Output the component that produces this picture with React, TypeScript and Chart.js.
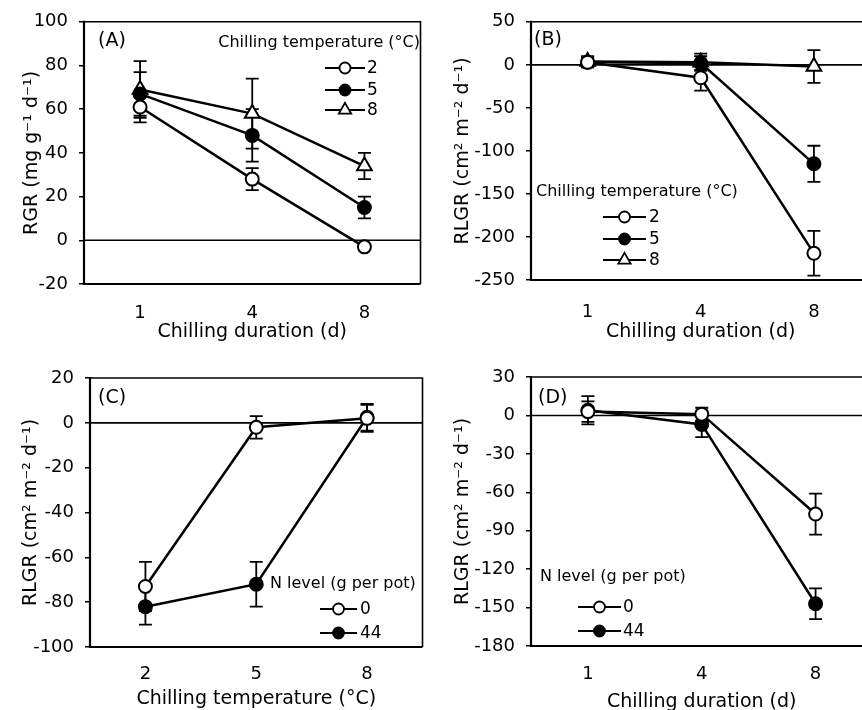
import React, { useEffect, useRef } from "react";
import { Chart, registerables } from "chart.js";

Chart.register(...registerables);

const FONT = "'DejaVu Sans', Verdana, sans-serif";

// ---------- categories ----------
const durationLabels = ["1", "4", "8"];
const temperatureLabels = ["2", "5", "8"];
const chillTempSeries = ["2", "5", "8"];
const nLevelSeries = ["0", "44"];

// ---------- (A) RGR vs chilling duration ----------
const rgrT2 = [61, 28, -3];
const rgrT2Err = [7, 5, 0];
const rgrT5 = [67, 48, 15];
const rgrT5Err = [10, 12, 5];
const rgrT8 = [69, 58, 34];
const rgrT8Err = [13, 16, 6];

// ---------- (B) RLGR vs chilling duration ----------
const rlgrBT2 = [3, -15, -219];
const rlgrBT2Err = [6, 15, 26];
const rlgrBT5 = [3, 2, -115];
const rlgrBT5Err = [6, 8, 21];
const rlgrBT8 = [4, 3, -2];
const rlgrBT8Err = [6, 10, 19];

// ---------- (C) RLGR vs chilling temperature ----------
const rlgrCN0 = [-73, -2, 2];
const rlgrCN0Err = [11, 5, 6];
const rlgrCN44 = [-82, -72, 2.5];
const rlgrCN44Err = [8, 10, 6];

// ---------- (D) RLGR vs chilling duration ----------
const rlgrDN0 = [3, 1, -77];
const rlgrDN0Err = [8, 5, 16];
const rlgrDN44 = [4, -7, -147];
const rlgrDN44Err = [11, 10, 12];

// ---------- axis ranges ----------
const yRangeA = [-20, 100, 20];
const yRangeB = [-250, 50, 50];
const yRangeC = [-100, 20, 20];
const yRangeD = [-180, 30, 30];

const titleRGR = "RGR (mg g\u207B\u00B9 d\u207B\u00B9)";
const titleRLGR = "RLGR (cm\u00B2 m\u207B\u00B2 d\u207B\u00B9)";
const titleDuration = "Chilling duration (d)";
const titleTemperature = "Chilling temperature (\u00B0C)";
const legendTempTitle = "Chilling temperature (\u00B0C)";
const legendNTitle = "N level (g per pot)";

type Marker = "open" | "filled" | "triangle";

function series(label: string, data: number[], errors: number[], marker: Marker) {
  const tri = marker === "triangle";
  return {
    label,
    data,
    errors,
    marker,
    borderColor: "#000",
    borderWidth: 2.5,
    tension: 0,
    fill: false,
    pointStyle: tri ? "triangle" : "circle",
    pointRadius: tri ? 8.5 : 6.5,
    pointBorderWidth: 2,
    pointBorderColor: "#000",
    pointBackgroundColor: marker === "filled" ? "#000" : "#fff",
  };
}

function drawMarker(ctx: CanvasRenderingContext2D, marker: Marker, x: number, y: number, r: number) {
  ctx.save();
  ctx.beginPath();
  if (marker === "triangle") {
    let rad = 0;
    const R = r * 1.3;
    ctx.moveTo(x + Math.sin(rad) * R, y - Math.cos(rad) * R);
    rad += (2 * Math.PI) / 3;
    ctx.lineTo(x + Math.sin(rad) * R, y - Math.cos(rad) * R);
    rad += (2 * Math.PI) / 3;
    ctx.lineTo(x + Math.sin(rad) * R, y - Math.cos(rad) * R);
    ctx.closePath();
  } else {
    ctx.arc(x, y, r, 0, Math.PI * 2);
  }
  ctx.fillStyle = marker === "filled" ? "#000" : "#fff";
  ctx.fill();
  ctx.lineWidth = 1.8;
  ctx.strokeStyle = "#000";
  ctx.stroke();
  ctx.restore();
}

const errorBarPlugin = {
  id: "errorBars",
  beforeDatasetsDraw(chart: any) {
    const ctx = chart.ctx;
    const ys = chart.scales.y;
    const area = chart.chartArea;
    // zero line
    ctx.save();
    ctx.strokeStyle = "#000";
    ctx.lineWidth = 1.6;
    const y0 = ys.getPixelForValue(0);
    ctx.beginPath();
    ctx.moveTo(area.left, y0);
    ctx.lineTo(area.right, y0);
    ctx.stroke();
    // error bars
    ctx.lineWidth = 1.8;
    chart.data.datasets.forEach((ds: any, i: number) => {
      const meta = chart.getDatasetMeta(i);
      meta.data.forEach((pt: any, j: number) => {
        const e = ds.errors ? ds.errors[j] : 0;
        if (!e) return;
        const v = ds.data[j];
        const top = ys.getPixelForValue(v + e);
        const bot = ys.getPixelForValue(v - e);
        const x = pt.x;
        ctx.beginPath();
        ctx.moveTo(x, top);
        ctx.lineTo(x, bot);
        ctx.moveTo(x - 6.5, top);
        ctx.lineTo(x + 6.5, top);
        ctx.moveTo(x - 6.5, bot);
        ctx.lineTo(x + 6.5, bot);
        ctx.stroke();
      });
    });
    ctx.restore();
  },
};

const framePlugin = {
  id: "frame",
  afterDraw(chart: any) {
    const { ctx, chartArea: a } = chart;
    ctx.save();
    ctx.strokeStyle = "#000";
    ctx.lineWidth = 1.6;
    ctx.beginPath();
    ctx.moveTo(a.left, a.top);
    ctx.lineTo(a.right, a.top);
    ctx.lineTo(a.right, a.bottom);
    ctx.stroke();
    ctx.lineWidth = 2.2;
    ctx.beginPath();
    ctx.moveTo(a.left, a.top - 1);
    ctx.lineTo(a.left, a.bottom);
    ctx.lineTo(a.right, a.bottom);
    ctx.stroke();
    ctx.restore();
  },
};

const decorPlugin = {
  id: "panelDecor",
  afterDraw(chart: any, _args: any, o: any) {
    const ctx = chart.ctx;
    ctx.save();
    ctx.fillStyle = "#000";
    ctx.textBaseline = "middle";
    // panel letter
    ctx.font = `19px ${FONT}`;
    ctx.textAlign = "left";
    ctx.fillText(o.letter, o.letterX, o.letterY);
    // legend title
    ctx.font = `16px ${FONT}`;
    ctx.textAlign = o.titleAlign;
    ctx.fillText(o.title, o.titleX, o.titleY);
    // legend entries
    ctx.textAlign = "left";
    ctx.font = `17px ${FONT}`;
    chart.data.datasets.forEach((ds: any, i: number) => {
      const y = o.rows[i];
      ctx.strokeStyle = "#000";
      ctx.lineWidth = 2;
      ctx.beginPath();
      ctx.moveTo(o.lineX1, y);
      ctx.lineTo(o.lineX2, y);
      ctx.stroke();
      drawMarker(ctx, ds.marker, (o.lineX1 + o.lineX2) / 2, y, 5.5);
      ctx.fillStyle = "#000";
      ctx.fillText(ds.label, o.labelX, y + 1);
    });
    ctx.restore();
  },
};

function makePanel(canvas: HTMLCanvasElement, cfg: any) {
  const tickFont = { family: FONT, size: 18 };
  const titleFont = { family: FONT, size: 19, lineHeight: 1.2 };
  return new Chart(canvas, {
    type: "line",
    data: { labels: cfg.labels, datasets: cfg.datasets },
    options: {
      responsive: false,
      animation: false,
      events: [],
      layout: { padding: { top: cfg.padTop, right: cfg.padRight, left: 0, bottom: 0 } },
      plugins: {
        legend: { display: false },
        tooltip: { enabled: false },
        panelDecor: cfg.decor,
      } as any,
      scales: {
        x: {
          type: "category",
          offset: true,
          grid: { display: false },
          border: { display: false },
          ticks: { color: "#000", font: tickFont, padding: cfg.xTickPad, maxRotation: 0 },
          title: {
            display: true,
            text: cfg.xTitle,
            color: "#000",
            font: titleFont,
            padding: { top: 0, bottom: cfg.xTitlePad },
          },
          afterFit: (s: any) => {
            s.height = cfg.xHeight;
          },
        },
        y: {
          type: "linear",
          min: cfg.yRange[0],
          max: cfg.yRange[1],
          grid: {
            display: true,
            drawOnChartArea: false,
            drawTicks: true,
            tickLength: 5,
            color: "#000",
            lineWidth: 1.5,
          },
          border: { display: false },
          ticks: { stepSize: cfg.yRange[2], color: "#000", font: tickFont, padding: 11 },
          title: {
            display: true,
            text: cfg.yTitle,
            color: "#000",
            font: titleFont,
            padding: { top: cfg.yTitlePad, bottom: 0 },
          },
          afterFit: (s: any) => {
            s.width = cfg.yWidth;
          },
        },
      },
    } as any,
    plugins: [errorBarPlugin, framePlugin, decorPlugin],
  });
}

const panels = [
  { key: "A", left: 0, top: 0, w: 431, h: 355 },
  { key: "B", left: 431, top: 0, w: 450, h: 355 },
  { key: "C", left: 0, top: 355, w: 431, h: 370 },
  { key: "D", left: 431, top: 355, w: 450, h: 370 },
];

export default function App() {
  const refs = [
    useRef<HTMLCanvasElement>(null),
    useRef<HTMLCanvasElement>(null),
    useRef<HTMLCanvasElement>(null),
    useRef<HTMLCanvasElement>(null),
  ];

  useEffect(() => {
    const charts: Chart[] = [];
    charts.push(
      makePanel(refs[0].current!, {
        labels: durationLabels,
        datasets: [
          series(chillTempSeries[0], rgrT2, rgrT2Err, "open"),
          series(chillTempSeries[1], rgrT5, rgrT5Err, "filled"),
          series(chillTempSeries[2], rgrT8, rgrT8Err, "triangle"),
        ],
        yRange: yRangeA,
        yTitle: titleRGR,
        xTitle: titleDuration,
        padTop: 19,
        padRight: 7,
        yWidth: 84,
        xHeight: 71,
        xTickPad: 11,
        xTitlePad: 12,
        yTitlePad: 21,
        decor: {
          letter: "(A)", letterX: 98, letterY: 41,
          title: legendTempTitle, titleAlign: "right", titleX: 420, titleY: 43,
          lineX1: 325, lineX2: 365, labelX: 367, rows: [68, 90, 110],
        },
      })
    );
    charts.push(
      makePanel(refs[1].current!, {
        labels: durationLabels,
        datasets: [
          series(chillTempSeries[0], rlgrBT2, rlgrBT2Err, "open"),
          series(chillTempSeries[1], rlgrBT5, rlgrBT5Err, "filled"),
          series(chillTempSeries[2], rlgrBT8, rlgrBT8Err, "triangle"),
        ],
        yRange: yRangeB,
        yTitle: titleRLGR,
        xTitle: titleDuration,
        padTop: 20,
        padRight: 8,
        yWidth: 100,
        xHeight: 75,
        xTickPad: 14,
        xTitlePad: 12,
        yTitlePad: 21,
        decor: {
          letter: "(B)", letterX: 103, letterY: 40,
          title: legendTempTitle, titleAlign: "left", titleX: 105, titleY: 192,
          lineX1: 172, lineX2: 215, labelX: 218, rows: [217, 239, 260],
        },
      })
    );
    charts.push(
      makePanel(refs[2].current!, {
        labels: temperatureLabels,
        datasets: [
          series(nLevelSeries[0], rlgrCN0, rlgrCN0Err, "open"),
          series(nLevelSeries[1], rlgrCN44, rlgrCN44Err, "filled"),
        ],
        yRange: yRangeC,
        yTitle: titleRLGR,
        xTitle: titleTemperature,
        padTop: 23,
        padRight: 6,
        yWidth: 90,
        xHeight: 78,
        xTickPad: 9,
        xTitlePad: 15,
        yTitlePad: 20,
        decor: {
          letter: "(C)", letterX: 98, letterY: 43,
          title: legendNTitle, titleAlign: "left", titleX: 270, titleY: 229,
          lineX1: 320, lineX2: 357, labelX: 360, rows: [254, 278],
        },
      })
    );
    charts.push(
      makePanel(refs[3].current!, {
        labels: durationLabels,
        datasets: [
          series(nLevelSeries[0], rlgrDN0, rlgrDN0Err, "open"),
          series(nLevelSeries[1], rlgrDN44, rlgrDN44Err, "filled"),
        ],
        yRange: yRangeD,
        yTitle: titleRLGR,
        xTitle: titleDuration,
        padTop: 22,
        padRight: 8,
        yWidth: 100,
        xHeight: 79,
        xTickPad: 10,
        xTitlePad: 12,
        yTitlePad: 21,
        decor: {
          letter: "(D)", letterX: 107, letterY: 43,
          title: legendNTitle, titleAlign: "left", titleX: 109, titleY: 222,
          lineX1: 147, lineX2: 190, labelX: 192, rows: [252, 276],
        },
      })
    );
    return () => charts.forEach((c) => c.destroy());
  }, []);

  return (
    <div
      style={{
        position: "absolute",
        left: 0,
        top: 0,
        width: 862,
        height: 710,
        overflow: "hidden",
        background: "#fff",
      }}
    >
      {panels.map((p, i) => (
        <canvas
          key={p.key}
          ref={refs[i]}
          width={p.w}
          height={p.h}
          style={{ position: "absolute", left: p.left, top: p.top, width: p.w, height: p.h }}
        />
      ))}
    </div>
  );
}
